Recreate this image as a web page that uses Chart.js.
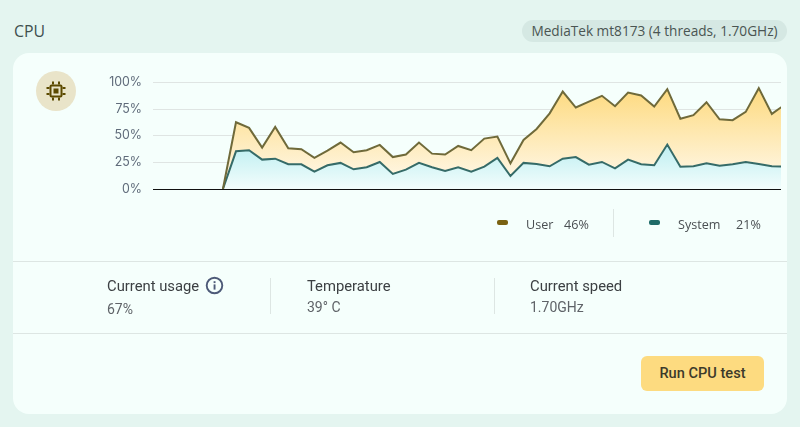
<!DOCTYPE html>
<html><head><meta charset="utf-8">
<script src="https://cdn.jsdelivr.net/npm/chart.js@4/dist/chart.umd.min.js"></script>
<style>
html,body{margin:0;padding:0;width:800px;height:427px;overflow:hidden;background:#e4f5f0;font-family:"Open Sans",Roboto,sans-serif;color:#3c4043}
.a{position:absolute;white-space:nowrap;line-height:1}
#card{position:absolute;left:13px;top:53px;width:774px;height:361px;background:#f5fffc;border-radius:16px}
canvas{position:absolute;left:0;top:0}
.hr{position:absolute;left:13px;width:774px;height:1px;background:#dde6e3}
.vr{position:absolute;width:1px;background:#dde6e3}
.lab{font:14.8px Roboto,sans-serif;color:#3c4043}
.val{font:14px Roboto,sans-serif;color:#5f6368}
.leg{font:12.6px "Open Sans",sans-serif;color:#4a4f52}
.sw{position:absolute;width:11px;height:5px;border-radius:2px}
</style></head><body>
<div class="a" style="left:14px;top:24px;font-size:15.8px;color:#3f4f4f">CPU</div>
<div class="a" style="left:522px;top:20px;width:265px;height:22px;background:#d5e8e3;border-radius:11px;line-height:22px;text-align:center;font-size:13.65px;color:#4a5552">MediaTek mt8173 (4 threads, 1.70GHz)</div>
<div id="card"></div>
<div class="a" style="left:36px;top:71px;width:40px;height:40px;border-radius:50%;background:#e9e4c9"></div>
<svg class="a" style="left:46px;top:81px" width="20" height="20" viewBox="0 0 20 20"><g fill="#5c4a00"><rect x="3.5" y="3.5" width="13" height="13" rx="2"/><rect x="6" y="0.5" width="2" height="3"/><rect x="12" y="0.5" width="2" height="3"/><rect x="6" y="16.5" width="2" height="3"/><rect x="12" y="16.5" width="2" height="3"/><rect x="0.5" y="6" width="3" height="2"/><rect x="0.5" y="12" width="3" height="2"/><rect x="16.5" y="6" width="3" height="2"/><rect x="16.5" y="12" width="3" height="2"/></g><rect x="5.5" y="5.5" width="9" height="9" fill="#e9e4c9"/><rect x="7.5" y="7.5" width="5" height="5" fill="#5c4a00"/></svg>
<canvas id="c" width="800" height="427"></canvas>
<div class="sw" style="left:497px;top:220px;background:#7a6212"></div>
<div class="a leg" style="left:526px;top:216px">User</div>
<div class="a leg" style="left:564px;top:216px">46%</div>
<div class="vr" style="left:613px;top:209px;height:28px"></div>
<div class="sw" style="left:649px;top:220px;background:#1f6b68"></div>
<div class="a leg" style="left:678px;top:216px">System</div>
<div class="a leg" style="left:736px;top:216px">21%</div>
<div class="hr" style="top:261px"></div>
<div class="a lab" style="left:107px;top:277px">Current usage</div>
<svg class="a" style="left:205px;top:276px" width="19" height="19" viewBox="0 0 19 19"><circle cx="9.5" cy="9.5" r="7.8" fill="none" stroke="#4d5a78" stroke-width="1.9"/><rect x="8.6" y="8.4" width="1.9" height="5.2" fill="#4d5a78"/><rect x="8.6" y="5.2" width="1.9" height="1.9" fill="#4d5a78"/></svg>
<div class="a val" style="left:107px;top:301px">67%</div>
<div class="vr" style="left:270px;top:278px;height:36px"></div>
<div class="a lab" style="left:307px;top:277px">Temperature</div>
<div class="a val" style="left:307px;top:299px">39° C</div>
<div class="vr" style="left:494px;top:278px;height:36px"></div>
<div class="a lab" style="left:530px;top:277px">Current speed</div>
<div class="a val" style="left:530px;top:299px">1.70GHz</div>
<div class="hr" style="top:333px"></div>
<div class="a" style="left:641px;top:356px;width:123px;height:35px;background:#fddb80;border-radius:6px;line-height:35px;text-align:center;font:500 14.6px/35px Roboto,sans-serif;color:#3c3a2a">Run CPU test</div>
<script>
const samples=[-1,0,1,2,3,4,5,6,7,8,9,10,11,12,13,14,15,16,17,18,19,20,21,22,23,24,25,26,27,28,29,30,31,32,33,34,35,36,37,38,39,40,41,42];
const userValues=[0,62.7,57.4,38.9,58.3,38.2,37.3,29.2,36,43.6,34.5,36.4,41.4,30,32.3,43.6,33.2,32.3,40.4,36.4,47.3,49.2,24.1,46,56.4,71,91.5,76.5,82,87.5,77.7,90.6,87.8,77.4,93.7,66,69.3,81.5,65.5,64.6,72.4,94.7,70.5,79.3];
const systemValues=[0,35.4,36.4,27.6,28.5,23.2,23.2,16.3,22.3,24.5,18.5,20.4,25.4,14.1,18.2,24.5,20.4,17,20.4,16.3,21,29.2,12.2,24.5,23.5,21.3,28.5,30,22.9,25.4,19.4,27.6,23.2,22.3,41.7,21,21.3,24.1,21.9,23.2,25.4,23.5,21.3,21];
const yTicks=[0,25,50,75,100];
const pts=v=>samples.map((s,i)=>({x:s,y:v[i]}));
const grad=(ctx,a,b)=>{const {chart}=ctx;const ca=chart.chartArea;if(!ca)return a;
  const g=chart.ctx.createLinearGradient(0,ca.top,0,ca.bottom);g.addColorStop(0,a);g.addColorStop(1,b);return g;};
new Chart(document.getElementById('c'),{
  type:'line',
  data:{datasets:[
    {label:'User',data:pts(userValues),borderColor:'#6f6a3a',borderWidth:2,pointRadius:0,tension:0,fill:'+1',
     backgroundColor:c=>grad(c,'#fdd878','#fffaf0')},
    {label:'System',data:pts(systemValues),borderColor:'#356b68',borderWidth:2,pointRadius:0,tension:0,fill:'origin',
     backgroundColor:c=>grad(c,'#72dbe2','#f3fdfc')}
  ]},
  options:{
    responsive:false,animation:false,
    layout:{padding:{left:90,top:82.5,right:19,bottom:238}},
    plugins:{legend:{display:false},tooltip:{enabled:false},filler:{drawTime:'beforeDatasetsDraw'}},
    scales:{
      x:{type:'linear',min:-6.35,max:41.7,display:false},
      y:{min:0,max:100,
        afterFit:s=>{s.width=63;},
        afterBuildTicks:s=>{s.ticks=yTicks.map(v=>({value:v}));},
        border:{display:false},
        grid:{drawTicks:false,lineWidth:1,color:c=>c.tick.value===0?'#111':'#dfe5e3'},
        ticks:{padding:11,color:'#5f6b7a',font:{family:'Inter',size:12.4,weight:'400'},callback:v=>v+'%'}
      }
    }
  }
});
</script>
</body></html>
